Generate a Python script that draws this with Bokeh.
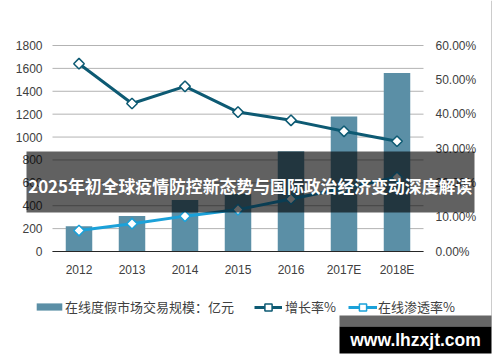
import math
from bokeh.plotting import figure
from bokeh.models import (Range1d, LinearAxis, FixedTicker, PrintfTickFormatter,
                          Legend, LegendItem, BoxAnnotation, Label)
from bokeh.embed import file_html
from bokeh.resources import INLINE

years = ["2012", "2013", "2014", "2015", "2016", "2017E", "2018E"]
market_size = [220, 310, 450, 505, 875, 1180, 1560]          # 亿元
growth_rate = [54.7, 43.1, 48.1, 40.6, 38.2, 35.0, 32.1]     # %
penetration = [6.1, 8.1, 10.3, 12.2, 15.3, 18.4, 21.6]       # %
left_ticks = [0, 200, 400, 600, 800, 1000, 1200, 1400, 1600, 1800]
right_ticks = [0, 10, 20, 30, 40, 50, 60]
series_names = ["在线度假市场交易规模：亿元", "增长率%", "在线渗透率%"]
overlay_title = "2025年初全球疫情防控新态势与国际政治经济变动深度解读"
watermark = "www.lhzxjt.com"

BAR = "#5b8fa6"
GROWTH = "#0d5a73"
PEN = "#1ba1d9"
TXT = "#404040"
FONT = "Liberation Sans"
CJK = "Noto Sans CJK SC"

# layout (canvas pixels)
W, H = 500, 362
PL, PR, PT, PB = 52, 423, 45, 251
LMAX, PMAX = left_ticks[-1], right_ticks[-1]
n = len(years)
xs = list(range(n))

# ranges chosen so the frame covers the whole canvas while the plot area sits at PL..PR / PT..PB
cw = (PR - PL) / n
x0 = -0.5 - PL / cw
x1 = -0.5 + (W - PL) / cw
ly = LMAX / (PB - PT)
py = PMAX / (PB - PT)

p = figure(width=W, height=H, x_range=Range1d(x0, x1),
           y_range=Range1d(-(H - PB) * ly, PB * ly),
           x_axis_location=None, y_axis_location=None,
           output_backend="svg", toolbar_location=None, min_border=0)
p.extra_y_ranges = {"pct": Range1d(-(H - PB) * py, PB * py)}
p.outline_line_color = None
p.grid.visible = False
p.background_fill_color = "white"
p.border_fill_color = "white"

def style(ax, standoff):
    ax.axis_line_color = None
    ax.major_tick_line_color = None
    ax.minor_tick_line_color = None
    ax.major_tick_in = 0
    ax.major_tick_out = 0
    ax.major_label_standoff = standoff
    ax.major_label_text_font = FONT
    ax.major_label_text_font_size = "12px"
    ax.major_label_text_color = TXT

la = LinearAxis(ticker=FixedTicker(ticks=left_ticks), fixed_location=-0.5, bounds=(0, LMAX))
style(la, 10)
p.add_layout(la, "left")

ra = LinearAxis(y_range_name="pct", ticker=FixedTicker(ticks=right_ticks),
                formatter=PrintfTickFormatter(format="%.2f%%"),
                fixed_location=n - 0.5, bounds=(0, PMAX))
style(ra, 12)
p.add_layout(ra, "right")

ba = LinearAxis(ticker=FixedTicker(ticks=xs), fixed_location=0, bounds=(-0.5, n - 0.5),
                major_label_overrides={i: y for i, y in enumerate(years)})
style(ba, 11)
ba.axis_line_color = "#262626"
ba.axis_line_width = 1
p.add_layout(ba, "below")

# horizontal grid lines at the left-axis ticks
p.segment(x0=[-0.5] * len(left_ticks), x1=[n - 0.5] * len(left_ticks),
          y0=left_ticks, y1=left_ticks, line_color="#b3b3b3", line_width=1)

bars = p.vbar(x=xs, top=market_size, width=0.5, fill_color=BAR, line_color=None)
gl = p.line(x=xs, y=growth_rate, y_range_name="pct", line_color=GROWTH, line_width=3)
gm = p.scatter(x=xs, y=growth_rate, y_range_name="pct", marker="square", angle=math.pi / 4,
               size=7.5, fill_color="white", line_color=GROWTH, line_width=1.5)
pl = p.line(x=xs, y=penetration, y_range_name="pct", line_color=PEN, line_width=3)
pm = p.scatter(x=xs, y=penetration, y_range_name="pct", marker="square", angle=math.pi / 4,
               size=7.5, fill_color="white", line_color=PEN, line_width=1.5)

def make_legend(item, loc, gw, gh, standoff):
    lg = Legend(items=[item], location=loc, orientation="horizontal",
                background_fill_alpha=0, border_line_color=None,
                padding=0, margin=0, spacing=0, label_standoff=standoff,
                glyph_width=gw, glyph_height=gh,
                label_text_font=CJK, label_text_font_size="13px", label_text_color=TXT)
    p.add_layout(lg, "center")

make_legend(LegendItem(label=series_names[0], renderers=[bars]), (33, 46), 32, 9, 0)
make_legend(LegendItem(label=series_names[1], renderers=[gl, gm]), (254, 46), 28, 18, 3)
make_legend(LegendItem(label=series_names[2], renderers=[pl, pm]), (348, 46), 29, 18, 1)

def cbox(l, r, t, b, color, alpha=1.0):
    p.add_layout(BoxAnnotation(left=l, right=r, top=t, bottom=b,
                               left_units="canvas", right_units="canvas",
                               top_units="canvas", bottom_units="canvas",
                               fill_color=color, fill_alpha=alpha, line_color=None))

# right border line of the original image
cbox(490.5, 491.5, 0, 326, "#cccccc")

# overlay title band
cbox(26, 474, 151, 212, "black", 0.62)
p.add_layout(Label(x=249.7, y=H - 185, x_units="screen", y_units="screen", text=overlay_title,
                   text_align="center", text_baseline="middle", text_color="white",
                   text_font=CJK, text_font_style="bold", text_font_size="16.85px"))

# watermark
cbox(339, 491, 315, 326, "#666666")
cbox(339, 491, 326, 353, "black")
p.add_layout(Label(x=415, y=H - 339.5, x_units="screen", y_units="screen", text=watermark,
                   text_align="center", text_baseline="middle", text_color="white",
                   text_font=FONT, text_font_style="bold", text_font_size="17.5px"))

open("out.html", "w").write(file_html(p, INLINE))
